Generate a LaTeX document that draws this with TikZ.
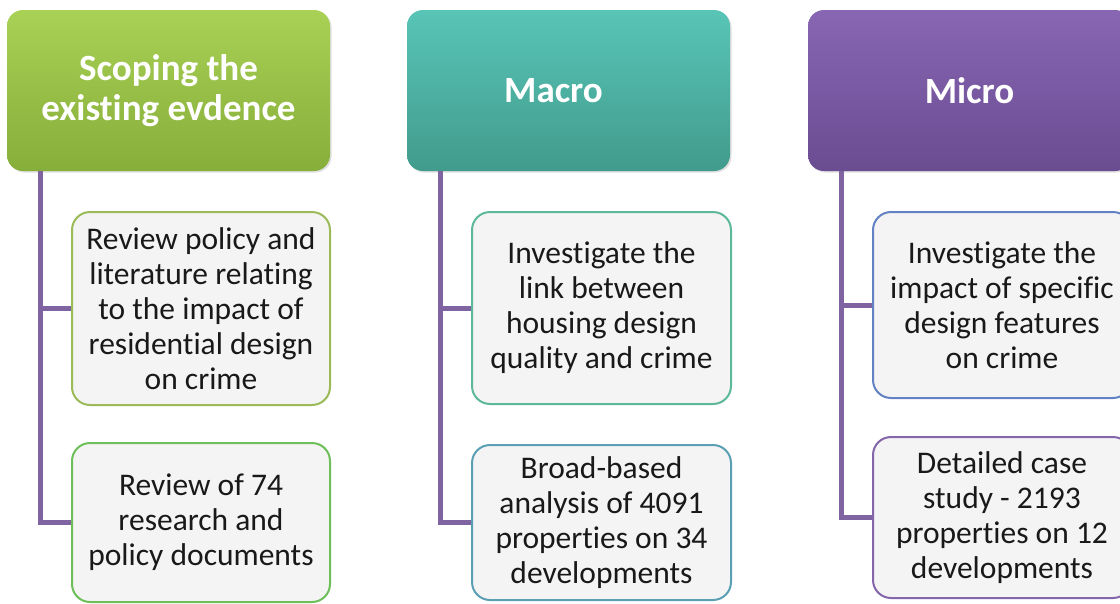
\documentclass[tikz,border=0pt]{standalone}
\usepackage{fontspec}
\setmainfont{Carlito}[Ligatures={NoCommon}]
\usetikzlibrary{shadows}
\definecolor{gtop}{HTML}{A9D155}
\definecolor{gbot}{HTML}{86AE3A}
\definecolor{ttop}{HTML}{58C5B7}
\definecolor{tbot}{HTML}{419B8C}
\definecolor{ptop}{HTML}{8866B3}
\definecolor{pbot}{HTML}{6A4C91}
\definecolor{trunkc}{HTML}{8064A2}
\definecolor{boxfill}{HTML}{F4F4F4}
\definecolor{ba1}{HTML}{9BBB59}
\definecolor{ba2}{HTML}{6EBF5A}
\definecolor{bb1}{HTML}{5DB89A}
\definecolor{bb2}{HTML}{5B9FB5}
\definecolor{bc1}{HTML}{6282C4}
\definecolor{bc2}{HTML}{8566AA}
\begin{document}
\begin{tikzpicture}[x=1pt,y=-1pt]
\tikzset{
  hdr/.style={rounded corners=16pt, minimum width=323pt, minimum height=161pt,
    inner sep=0pt, align=center, text=white,
    font=\fontsize{37}{40}\selectfont\bfseries,
    drop shadow={opacity=0.25, shadow xshift=1.5pt, shadow yshift=-1.5pt}},
  child/.style={draw, line width=2pt, fill=boxfill, rounded corners=18pt,
    minimum width=258pt, inner sep=0pt, align=center, text=black!90,
    font=\fontsize{31.5}{35}\selectfont},
  trunk/.style={draw=trunkc, line width=5pt, line join=miter}
}
\useasboundingbox (0,0) rectangle (1120,603);
\clip (0,0) rectangle (1120,603);
\fill[white] (0,0) rectangle (1120,603);

% headers
\node[hdr, top color=gtop, bottom color=gbot] (h1) at (168.5,90.5) {Scoping the\\existing evdence};
\node[hdr, top color=ttop, bottom color=tbot] (h2) at (568.5,90.5) {\hspace*{-30pt}Macro};
\node[hdr, top color=ptop, bottom color=pbot] (h3) at (969.5,90.5) {Micro};

% children
\node[child, draw=ba1, minimum height=193pt] (a1) at (201,308.5)
  {Review policy and\\literature relating\\to the impact of\\residential design\\on crime};
\node[child, draw=ba2, minimum height=159pt] (a2) at (201,522.5)
  {Review of 74\\research and\\policy documents};
\node[child, draw=bb1, minimum height=192pt, minimum width=259pt] (b1) at (601.5,308)
  {Investigate the\\link between\\housing design\\quality and crime};
\node[child, draw=bb2, minimum height=155pt, minimum width=259pt] (b2) at (601.5,522.5)
  {Broad-based\\analysis of 4091\\properties on 34\\developments};
\node[child, draw=bc1, minimum height=186pt] (c1) at (1002,305)
  {Investigate the\\impact of specific\\design features\\on crime};
\node[child, draw=bc2, minimum height=161pt] (c2) at (1002,517.5)
  {Detailed case\\study - 2193\\properties on 12\\developments};

% connectors
\draw[trunk] ([xshift=34pt]h1.south west) |- (a1.west);
\draw[trunk] ([xshift=34pt]h1.south west) |- (a2.west);
\draw[trunk] ([xshift=34pt]h2.south west) |- (b1.west);
\draw[trunk] ([xshift=34pt]h2.south west) |- (b2.west);
\draw[trunk] ([xshift=34pt]h3.south west) |- (c1.west);
\draw[trunk] ([xshift=34pt]h3.south west) |- (c2.west);
\end{tikzpicture}
\end{document}
